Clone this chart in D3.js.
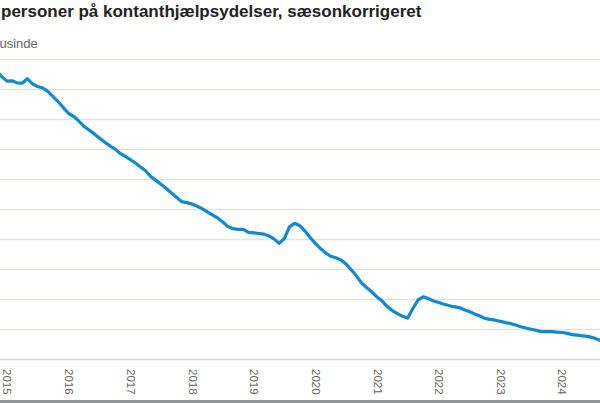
<!DOCTYPE html>
<html>
<head>
<meta charset="utf-8">
<script src="https://cdn.jsdelivr.net/npm/d3@7"></script>
<style>
  body { margin: 0; background: #fff; overflow: hidden; }
  svg { display: block; font-family: "Liberation Sans", Arial, sans-serif; }
</style>
</head>
<body>
<div id="chart"></div>
<script>
var width = 600, height = 403;

// Monthly series, first month Nov 2014 (thousands, seasonally adjusted)
var startYear = 2014, startMonth = 10;
var values = [
  196.2, 194.3,
  192.8, 192.9, 192.2, 192.1, 193.6, 191.9, 191.0, 190.5, 189.3, 187.6, 185.9, 183.9,
  182.0, 181.0, 179.5, 177.7, 176.5, 175.2, 173.8, 172.5, 171.2, 170.2, 168.7, 167.7,
  166.6, 165.4, 164.2, 162.9, 161.0, 159.7, 158.4, 157.0, 155.5, 154.1, 152.6, 152.3,
  151.8, 151.1, 150.3, 149.2, 148.2, 147.2, 145.9, 144.3, 143.6, 143.4, 143.4, 142.4,
  142.2, 142.0, 141.8, 141.2, 140.2, 138.7, 140.3, 144.2, 145.4, 144.6, 142.8, 140.7,
  138.7, 137.0, 135.6, 134.4, 133.9, 133.2, 131.8, 129.9, 127.8, 125.5, 123.9, 122.5,
  120.8, 119.4, 117.7, 116.3, 115.3, 114.4, 113.8, 117.0, 119.9, 120.9, 120.3, 119.5,
  119.0, 118.4, 118.0, 117.6, 117.3, 116.6, 116.0, 115.2, 114.5, 113.7, 113.4, 113.1,
  112.7, 112.3, 112.0, 111.5, 110.9, 110.5, 110.1, 109.7, 109.3, 109.3, 109.3, 109.1,
  109.0, 108.7, 108.3, 108.1, 107.9, 107.7, 107.3, 106.7, 106.0
];
var years = [2015, 2016, 2017, 2018, 2019, 2020, 2021, 2022, 2023, 2024];
var yTicks = [100, 110, 120, 130, 140, 150, 160, 170, 180, 190, 200];

var data = values.map(function(v, i) {
  return { date: new Date(startYear, startMonth + i, 1), value: v };
});

var svg = d3.select("#chart")
  .append("svg")
  .attr("width", width)
  .attr("height", height);

// X scale: one year is about 61.7px, Jan 2015 sits at x = 7
var xScale = d3.scaleTime()
  .domain([new Date(2015, 0, 1), new Date(2024, 0, 1)])
  .range([7, 562]);

var yScale = d3.scaleLinear()
  .domain([100, 200])
  .range([359.5, 59.5]);

// Title (left part cropped in the reference)
svg.append("text")
  .attr("x", 1)
  .attr("y", 17)
  .style("font-size", "17px")
  .style("font-weight", "bold")
  .style("fill", "#222")
  .text("personer på kontanthjælpsydelser, sæsonkorrigeret");

svg.append("text")
  .attr("x", -8)
  .attr("y", 48)
  .style("font-size", "13px")
  .style("fill", "#666")
  .text("Tusinde");

// Y grid
svg.append("g")
  .attr("class", "grid")
  .selectAll("line")
  .data(yTicks)
  .enter()
  .append("line")
  .attr("x1", 0)
  .attr("x2", width)
  .attr("y1", d => yScale(d))
  .attr("y2", d => yScale(d))
  .style("stroke", d => d === 100 ? "#d6d6d2" : "#e2e2de")
  .style("stroke-width", 1.3);

// X axis labels
var xAxis = d3.axisBottom(xScale)
  .tickValues(years.map(y => new Date(y, 0, 1)))
  .tickFormat(d3.timeFormat("%Y"))
  .tickSize(0);

var xg = svg.append("g")
  .attr("transform", `translate(0,${yScale(100)})`)
  .attr("class", "x-axis")
  .call(xAxis);

xg.select(".domain").remove();

xg.selectAll(".tick text")
  .attr("transform", "rotate(90)")
  .attr("x", 9.5)
  .attr("y", 0)
  .attr("dy", "0.35em")
  .style("text-anchor", "start")
  .style("font-size", "11.5px")
  .style("font-family", "'Liberation Sans', Arial, sans-serif")
  .style("fill", "#66665a");

// Line
var line = d3.line()
  .x(d => xScale(d.date))
  .y(d => yScale(d.value));

svg.append("path")
  .datum(data)
  .attr("d", line)
  .style("fill", "none")
  .style("stroke", "#1089d3")
  .style("stroke-width", 3.2)
  .style("stroke-linejoin", "round");

// Bottom border bar
svg.append("rect")
  .attr("x", 0)
  .attr("y", 400)
  .attr("width", width)
  .attr("height", 3)
  .style("fill", "#8e9597");
</script>
</body>
</html>
